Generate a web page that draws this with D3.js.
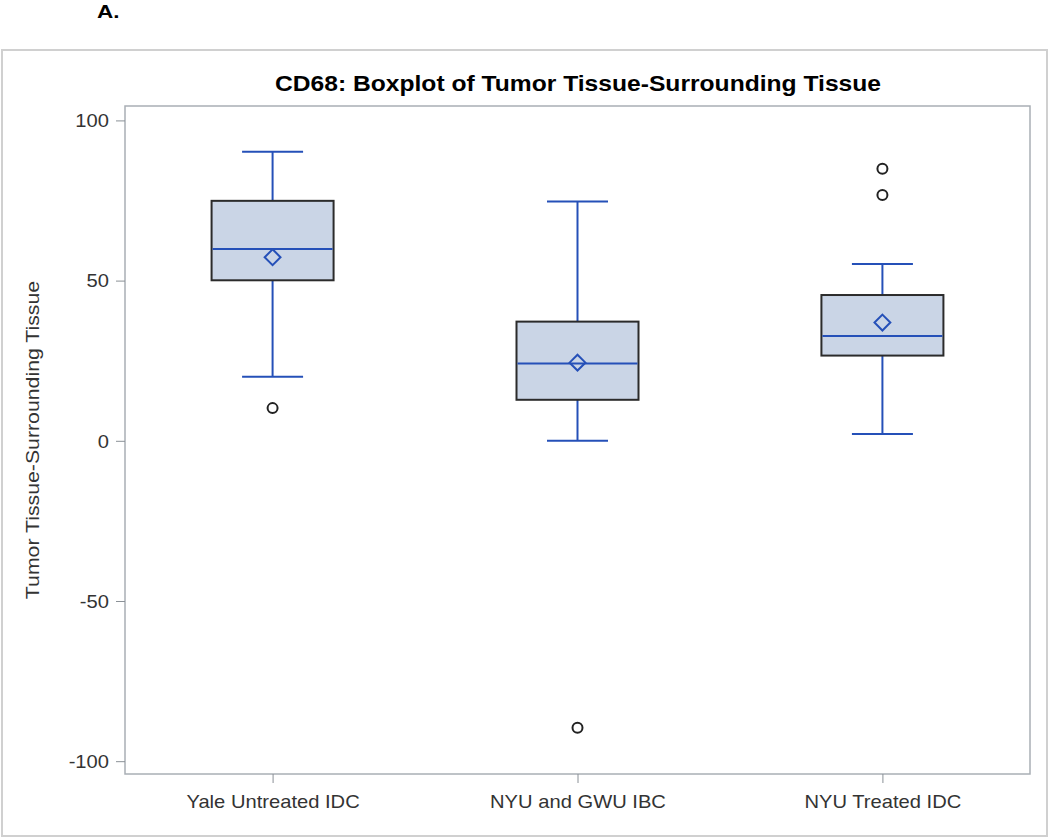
<!DOCTYPE html>
<html><head><meta charset="utf-8">
<script src="https://cdn.jsdelivr.net/npm/d3@7"></script>
<style>body{margin:0;background:#fff;} svg{display:block;font-family:"Liberation Sans",Arial,sans-serif;}</style>
</head><body>
<svg id="c" width="1050" height="838"></svg>
<script>
const categories = ["Yale Untreated IDC", "NYU and GWU IBC", "NYU Treated IDC"];
const whiskerLow = [20, 0, 2.1];
const q1 = [50.1, 12.8, 26.6];
const median = [59.9, 24.1, 32.7];
const q3 = [74.9, 37.2, 45.5];
const whiskerHigh = [90.2, 74.7, 55.2];
const mean = [57.3, 24.4, 36.9];
const outliers = [[10.2], [-89.6], [84.9, 76.7]];
const yTicks = [-100, -50, 0, 50, 100];
const title = "CD68: Boxplot of Tumor Tissue-Surrounding Tissue";
const yLabel = "Tumor Tissue-Surrounding Tissue";

const SX = 1.12; // horizontal stretch of the reference's text
const svg = d3.select("#c");
const L = 125, R = 1030, T = 106, B = 774;
const x = d3.scalePoint().domain(categories).range([L, R]).padding(0.484);
const y = d3.scaleLinear().domain([-104, 104.5]).range([B, T]);

// outer frame
svg.append("rect").attr("x", 2).attr("y", 50).attr("width", 1045).attr("height", 786)
  .attr("fill", "none").attr("stroke", "#d0d0d0").attr("stroke-width", 2);

svg.append("text").attr("transform", `translate(97,18) scale(1.25,1)`).attr("font-size", 18).attr("font-weight", "bold")
  .attr("fill", "#000").text("A.");

svg.append("text").attr("transform", `translate(578,91) scale(${SX},1)`).attr("text-anchor", "middle")
  .attr("font-size", 22).attr("font-weight", "bold").attr("fill", "#000").text(title);

// plot frame
svg.append("rect").attr("x", L).attr("y", T).attr("width", R - L).attr("height", B - T)
  .attr("fill", "none").attr("stroke", "#a9afb5").attr("stroke-width", 1.5);

const yAxis = svg.append("g").attr("transform", `translate(${L},0)`)
  .call(d3.axisLeft(y).tickValues(yTicks).tickSize(9).tickPadding(6).tickFormat(d => String(d)));
yAxis.select(".domain").remove();
yAxis.selectAll("line").attr("stroke", "#8a9096");
yAxis.selectAll("text").attr("x", null).attr("dy", "0.35em")
  .attr("transform", `translate(-16,0) scale(${SX},1)`)
  .attr("font-size", 18).attr("fill", "#333").attr("font-family", "Liberation Sans, Arial, sans-serif");

const xAxis = svg.append("g").attr("transform", `translate(0,${B})`)
  .call(d3.axisBottom(x).tickSize(9).tickPadding(10));
xAxis.select(".domain").remove();
xAxis.selectAll("line").attr("stroke", "#8a9096");
xAxis.selectAll("text").attr("y", null).attr("dy", null)
  .attr("transform", `translate(0,34) scale(${SX},1)`)
  .attr("font-size", 18).attr("fill", "#333").attr("font-family", "Liberation Sans, Arial, sans-serif");

svg.append("text").attr("transform", `translate(39,${(T + B) / 2}) rotate(-90) scale(${SX},1)`)
  .attr("text-anchor", "middle").attr("font-size", 19).attr("fill", "#333").text(yLabel);

const blue = "#2550b8";
const boxW = 122, capW = 61;
categories.forEach((c, i) => {
  const cx = x(c);
  const g = svg.append("g");
  g.append("line").attr("x1", cx).attr("x2", cx).attr("y1", y(whiskerHigh[i])).attr("y2", y(q3[i]))
    .attr("stroke", blue).attr("stroke-width", 2);
  g.append("line").attr("x1", cx).attr("x2", cx).attr("y1", y(q1[i])).attr("y2", y(whiskerLow[i]))
    .attr("stroke", blue).attr("stroke-width", 2);
  [whiskerHigh[i], whiskerLow[i]].forEach(v => {
    g.append("line").attr("x1", cx - capW / 2).attr("x2", cx + capW / 2).attr("y1", y(v)).attr("y2", y(v))
      .attr("stroke", blue).attr("stroke-width", 2);
  });
  g.append("rect").attr("x", cx - boxW / 2).attr("y", y(q3[i])).attr("width", boxW)
    .attr("height", y(q1[i]) - y(q3[i])).attr("fill", "#cad5e6").attr("stroke", "#2b2b2b").attr("stroke-width", 2);
  g.append("line").attr("x1", cx - boxW / 2 + 1).attr("x2", cx + boxW / 2 - 1).attr("y1", y(median[i])).attr("y2", y(median[i]))
    .attr("stroke", blue).attr("stroke-width", 2);
  g.append("path").attr("d", d3.symbol(d3.symbolDiamond2 || d3.symbolDiamond, 160)())
    .attr("transform", `translate(${cx},${y(mean[i])})`)
    .attr("fill", "none").attr("stroke", blue).attr("stroke-width", 2);
  outliers[i].forEach(v => {
    g.append("circle").attr("cx", cx).attr("cy", y(v)).attr("r", 5)
      .attr("fill", "#fff").attr("stroke", "#222").attr("stroke-width", 2);
  });
});
</script>
</body></html>
